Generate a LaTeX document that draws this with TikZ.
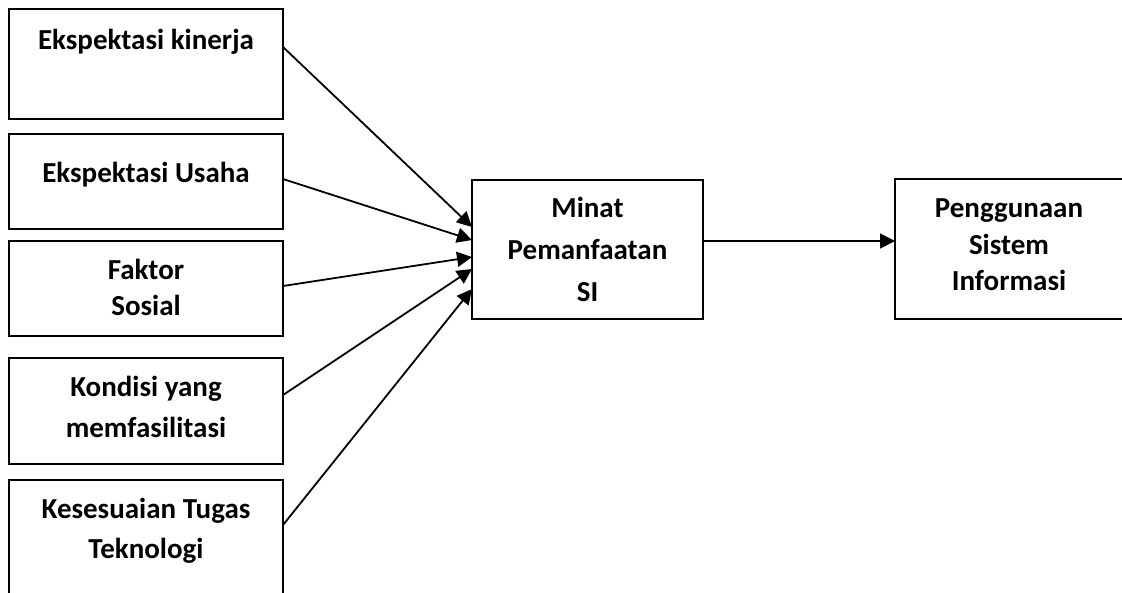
\documentclass[tikz,border=0pt]{standalone}
\usepackage{fontspec}
\setmainfont{Carlito}
\usetikzlibrary{arrows.meta}
\begin{document}
\begin{tikzpicture}[x=1pt,y=-1pt,
  box/.style={draw=black,line width=2pt,inner sep=0pt,outer sep=0pt,fill=white},
  lbl/.style={anchor=base,inner sep=0pt,font=\fontsize{29}{35}\selectfont\bfseries},
  conn/.style={draw=black,line width=1.8pt,-{Triangle[length=15pt,width=15pt]}}]
\useasboundingbox (0,0) rectangle (1122,592);
\clip (0,0) rectangle (1122,592);
% left boxes
\node[box,minimum width=274pt,minimum height=110pt] (b1) at (146,64) {};
\node[box,minimum width=274pt,minimum height=95pt] (b2) at (146,181.5) {};
\node[box,minimum width=274pt,minimum height=95pt] (b3) at (146,288.5) {};
\node[box,minimum width=274pt,minimum height=106pt] (b4) at (146,411) {};
\node[box,minimum width=274pt,minimum height=116pt] (b5) at (146,538) {};
% middle and right boxes
\node[box,minimum width=231pt,minimum height=139pt] (m) at (587.5,249.5) {};
\node[box,minimum width=229pt,minimum height=140pt] (r) at (1009.5,249) {};
% texts
\node[lbl] (t1) at (146,49) {Ekspektasi kinerja};
\node[lbl] (t2) at (146,182) {Ekspektasi Usaha};
\node[lbl] (t3a) at (146,279) {Faktor};
\node[lbl] (t3b) at (146,315) {Sosial};
\node[lbl] (t4a) at (146,396) {Kondisi yang};
\node[lbl] (t4b) at (146,437) {memfasilitasi};
\node[lbl] (t5a) at (146,518) {Kesesuaian Tugas};
\node[lbl] (t5b) at (146,558) {Teknologi};
\node[lbl] (tma) at (587.5,217) {Minat};
\node[lbl] (tmb) at (587.5,259) {Pemanfaatan};
\node[lbl] (tmc) at (587.5,301) {SI};
\node[lbl] (tra) at (1009,217) {Penggunaan};
\node[lbl] (trb) at (1009,254) {Sistem};
\node[lbl] (trc) at (1009,290) {Informasi};
% connector end points
\coordinate (s1) at ([yshift=-38pt]b1.north east);
\coordinate (s2) at ([yshift=-45pt]b2.north east);
\coordinate (s3) at ([yshift=-45pt]b3.north east);
\coordinate (s4) at ([yshift=-37pt]b4.north east);
\coordinate (s5) at ([yshift=-45pt]b5.north east);
\coordinate (e1) at ([yshift=-47pt]m.north west);
\coordinate (e2) at ([yshift=-60pt]m.north west);
\coordinate (e3) at ([yshift=-77pt]m.north west);
\coordinate (e4) at ([yshift=-89pt]m.north west);
\coordinate (e5) at ([yshift=-109pt]m.north west);
\coordinate (mo) at ([yshift=-61pt]m.north east);
\draw[conn] (s1) -- (e1);
\draw[conn] (s2) -- (e2);
\draw[conn] (s3) -- (e3);
\draw[conn] (s4) -- (e4);
\draw[conn] (s5) -- (e5);
\draw[conn] (mo) -- (r.west |- mo);
\end{tikzpicture}
\end{document}
